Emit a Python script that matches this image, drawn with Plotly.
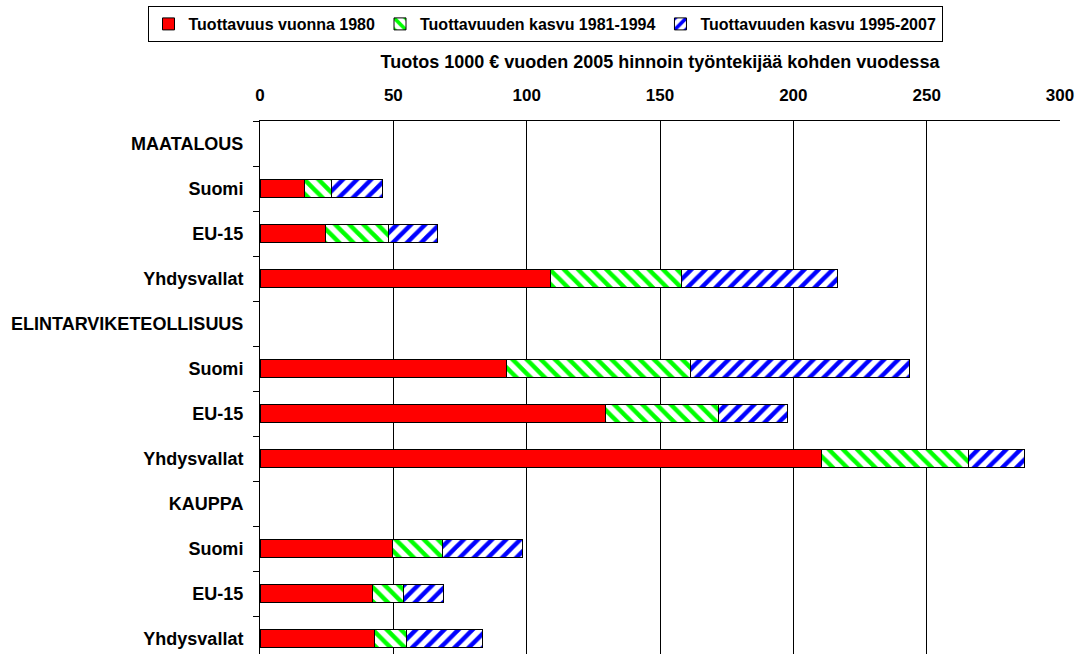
import plotly.graph_objects as go

labels = ["MAATALOUS", "Suomi", "EU-15", "Yhdysvallat",
          "ELINTARVIKETEOLLISUUS", "Suomi", "EU-15", "Yhdysvallat",
          "KAUPPA", "Suomi", "EU-15", "Yhdysvallat"]

# cumulative end values (None for header rows)
prod_1980 = [None, 16.6, 24.6, 109.0, None, 92.4, 129.6, 210.4, None, 49.6, 42.0, 43.0]
end_1994 = [None, 26.7, 48.1, 157.9, None, 161.5, 171.9, 265.6, None, 68.4, 53.7, 55.0]
end_2007 = [None, 45.9, 66.5, 216.7, None, 243.7, 197.7, 286.5, None, 98.5, 68.9, 83.4]

growth_8194 = [None if a is None else round(b - a, 1) for a, b in zip(prod_1980, end_1994)]
growth_9507 = [None if a is None else round(b - a, 1) for a, b in zip(end_1994, end_2007)]

series_names = ["Tuottavuus vuonna 1980", "Tuottavuuden kasvu 1981-1994", "Tuottavuuden kasvu 1995-2007"]
x_ticks = [0, 50, 100, 150, 200, 250, 300]
x_title = "Tuotos 1000 € vuoden 2005 hinnoin työntekijää kohden vuodessa"

ypos = list(range(len(labels)))
FONT = "Liberation Sans, Arial, sans-serif"

fig = go.Figure()
fig.add_trace(go.Bar(
    y=ypos, x=prod_1980, orientation="h", name=series_names[0],
    marker=dict(color="#FF0000", line=dict(color="black", width=1)),
    width=0.4))
fig.add_trace(go.Bar(
    y=ypos, x=growth_8194, orientation="h", name=series_names[1],
    marker=dict(color="white", line=dict(color="black", width=1),
                pattern=dict(shape="\\", fgcolor="#00FF00", bgcolor="white",
                             size=10, solidity=0.45, fillmode="replace")),
    width=0.4))
fig.add_trace(go.Bar(
    y=ypos, x=growth_9507, orientation="h", name=series_names[2],
    marker=dict(color="white", line=dict(color="black", width=1),
                pattern=dict(shape="/", fgcolor="#0000FF", bgcolor="white",
                             size=10, solidity=0.45, fillmode="replace")),
    width=0.4))

W, H = 1076, 654
n = len(labels)
plot_top = 121
plot_left = 260
plot_right = 1060.5
plot_h = H - plot_top
cat_px = 45
visible = plot_h / cat_px

fig.update_layout(
    width=W, height=H,
    barmode="stack",
    paper_bgcolor="white", plot_bgcolor="white",
    font=dict(family=FONT, size=18, color="black", weight="bold"),
    margin=dict(l=plot_left, r=W - plot_right, t=plot_top, b=0, pad=0),
    showlegend=True,
    legend=dict(orientation="h", xref="container", yref="container",
                x=545 / W, xanchor="center", y=1 - 6 / H, yanchor="top",
                bordercolor="black", borderwidth=1, bgcolor="white",
                font=dict(family=FONT, size=16, color="black", weight="bold"),
                traceorder="normal", itemwidth=30, tracegroupgap=0),
    bargap=0.6,
)

fig.update_xaxes(
    side="top", range=[0, 300], tickvals=x_ticks,
    showgrid=True, gridcolor="black", gridwidth=1,
    showline=True, linecolor="black", linewidth=1,
    ticks="", ticklabelstandoff=12,
    tickfont=dict(family=FONT, size=17, weight="bold"),
    title=dict(text=x_title, standoff=12,
               font=dict(family=FONT, size=18, weight="bold")),
    zeroline=False, fixedrange=True,
)

fig.update_yaxes(
    range=[-0.5 + visible, -0.5],
    tickvals=ypos, ticktext=labels,
    showgrid=False, zeroline=False,
    showline=True, linecolor="black", linewidth=1,
    ticks="outside", ticklen=12, tickcolor="white",
    minor=dict(tickvals=[i + 0.5 for i in range(-1, n)], ticks="outside",
               ticklen=6, tickcolor="black", tickwidth=1, showgrid=False),
    tickfont=dict(family=FONT, size=18, weight="bold"),
    fixedrange=True,
)

fig.write_html(
    "out.html",
    config={"displayModeBar": False},
    post_script="document.documentElement.style.overflow='hidden';"
                "document.body.style.margin='0';document.body.style.overflow='hidden';",
)
